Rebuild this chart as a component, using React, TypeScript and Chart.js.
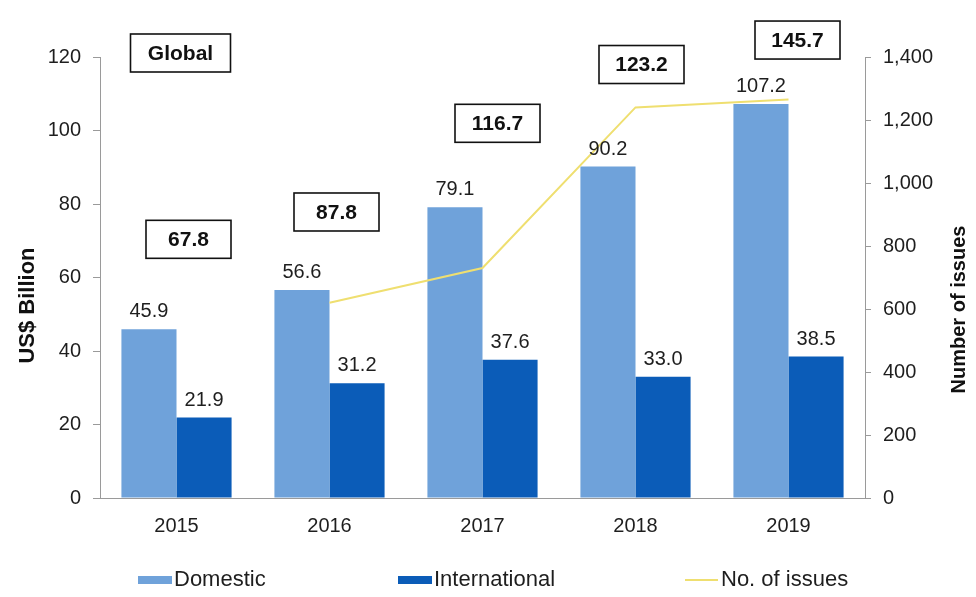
import React, { useEffect, useRef } from "react";
import { Chart, registerables } from "chart.js";

Chart.register(...registerables);

// ---- data ----
const years = ["2015", "2016", "2017", "2018", "2019"];
const domestic = [45.9, 56.6, 79.1, 90.2, 107.2];
const international = [21.9, 31.2, 37.6, 33.0, 38.5];
const totals = [67.8, 87.8, 116.7, 123.2, 145.7];
const issues: (number | null)[] = [null, 620, 730, 1240, 1265];
const regionLabel = "Global";
const seriesNames = ["Domestic", "International", "No. of issues"];
const leftTitle = "US$ Billion";
const rightTitle = "Number of issues";

// ---- layout (pixels) ----
const totalBoxLift = [90, 78, 84, 102, 64];
const totalBoxShift = [12, 7, 15, 6, 9];
const legendX = [138, 398, 685];
const legendY = 580;

const FONT = "'Liberation Sans', Arial, Helvetica, sans-serif";
const C_DOM = "#6fa2da";
const C_INT = "#0b5cb8";
const C_LINE = "#efdf70";
const C_AXIS = "#9a9a9a";

const annotationPlugin = {
  id: "annotations",
  afterDatasetsDraw(chart: any) {
    const ctx = chart.ctx;
    const xScale = chart.scales.x;
    const metaD = chart.getDatasetMeta(0);
    const metaI = chart.getDatasetMeta(1);
    ctx.save();
    // value labels
    ctx.font = `20px ${FONT}`;
    ctx.fillStyle = "#1e1e1e";
    ctx.textAlign = "center";
    ctx.textBaseline = "alphabetic";
    metaD.data.forEach((bar: any, i: number) => {
      ctx.fillText(domestic[i].toFixed(1), bar.x, bar.y - 12);
    });
    metaI.data.forEach((bar: any, i: number) => {
      ctx.fillText(international[i].toFixed(1), bar.x, bar.y - 12);
    });
    // total boxes
    const drawBox = (text: string, cx: number, cy: number, w: number, h: number) => {
      ctx.fillStyle = "#ffffff";
      ctx.fillRect(cx - w / 2, cy - h / 2, w, h);
      ctx.lineWidth = 1.6;
      ctx.strokeStyle = "#111111";
      ctx.strokeRect(cx - w / 2, cy - h / 2, w, h);
      ctx.fillStyle = "#111111";
      ctx.font = `bold 21px ${FONT}`;
      ctx.textAlign = "center";
      ctx.textBaseline = "middle";
      ctx.fillText(text, cx, cy + 1);
    };
    metaD.data.forEach((bar: any, i: number) => {
      const cx = xScale.getPixelForValue(i) + totalBoxShift[i];
      drawBox(totals[i].toFixed(1), cx, bar.y - totalBoxLift[i], 85, 38);
    });
    drawBox(regionLabel, xScale.getPixelForValue(0) + 4, chart.chartArea.top - 4, 100, 38);

    // axis titles (both read bottom-to-top)
    const area = chart.chartArea;
    const midY = (area.top + area.bottom) / 2 + 28;
    ctx.fillStyle = "#111111";
    ctx.textAlign = "center";
    ctx.textBaseline = "middle";
    ctx.save();
    ctx.translate(28, midY);
    ctx.rotate(-Math.PI / 2);
    ctx.font = `bold 22px ${FONT}`;
    ctx.fillText(leftTitle, 0, 0);
    ctx.restore();
    ctx.save();
    ctx.translate(959, midY + 4);
    ctx.rotate(-Math.PI / 2);
    ctx.font = `bold 20px ${FONT}`;
    ctx.fillText(rightTitle, 0, 0);
    ctx.restore();

    // legend
    ctx.font = `22px ${FONT}`;
    ctx.textAlign = "left";
    ctx.textBaseline = "middle";
    const colors = [C_DOM, C_INT, C_LINE];
    seriesNames.forEach((name, i) => {
      const x = legendX[i];
      if (i < 2) {
        ctx.fillStyle = colors[i];
        ctx.fillRect(x, legendY - 4, 34, 8);
      } else {
        ctx.strokeStyle = colors[i];
        ctx.lineWidth = 2;
        ctx.beginPath();
        ctx.moveTo(x, legendY);
        ctx.lineTo(x + 33, legendY);
        ctx.stroke();
      }
      ctx.fillStyle = "#1e1e1e";
      ctx.fillText(name, x + 36, legendY);
    });
    ctx.restore();
  },
};

export default function App() {
  const ref = useRef<HTMLCanvasElement | null>(null);
  useEffect(() => {
    if (!ref.current) return;
    const chart = new Chart(ref.current, {
      type: "bar",
      data: {
        labels: years,
        datasets: [
          {
            type: "bar",
            label: seriesNames[0],
            data: domestic,
            backgroundColor: C_DOM,
            yAxisID: "y",
            order: 2,
            categoryPercentage: 0.72,
            barPercentage: 1.0,
          },
          {
            type: "bar",
            label: seriesNames[1],
            data: international,
            backgroundColor: C_INT,
            yAxisID: "y",
            order: 2,
            categoryPercentage: 0.72,
            barPercentage: 1.0,
          },
          {
            type: "line",
            label: seriesNames[2],
            data: issues,
            borderColor: C_LINE,
            backgroundColor: C_LINE,
            borderWidth: 2,
            pointRadius: 0,
            tension: 0,
            yAxisID: "y1",
            order: 0,
          } as any,
        ],
      },
      options: {
        animation: false,
        responsive: false,
        maintainAspectRatio: false,
        layout: { padding: { top: 57, left: 0, right: 0, bottom: 41 } },
        plugins: {
          tooltip: { enabled: false },
          legend: { display: false },
        },
        scales: {
          x: {
            grid: { display: false },
            border: { display: true, color: C_AXIS, width: 1 },
            ticks: { font: { family: FONT, size: 20 }, color: "#1e1e1e", padding: 8 },
            afterFit: (s: any) => {
              s.height = 58;
            },
          },
          y: {
            position: "left",
            min: 0,
            max: 120,
            ticks: { stepSize: 20, font: { family: FONT, size: 20 }, color: "#1e1e1e", padding: 12 },
            grid: { drawOnChartArea: false, tickLength: 7, color: C_AXIS },
            border: { display: true, color: C_AXIS, width: 1 },
            title: { display: false },
            afterFit: (s: any) => {
              s.width = 100;
            },
          },
          y1: {
            position: "right",
            min: 0,
            max: 1400,
            ticks: {
              stepSize: 200,
              font: { family: FONT, size: 20 },
              color: "#1e1e1e",
              padding: 12,
              callback: (v: any) => Number(v).toLocaleString("en-US"),
            },
            grid: { drawOnChartArea: false, tickLength: 6, color: C_AXIS },
            border: { display: true, color: C_AXIS, width: 1 },
            title: { display: false },
            afterFit: (s: any) => {
              s.width = 111;
            },
          },
        },
      },
      plugins: [annotationPlugin],
    } as any);
    return () => chart.destroy();
  }, []);
  return (
    <div style={{ position: "absolute", left: 0, top: 0, width: 976, height: 597, background: "#fff" }}>
      <canvas ref={ref} width={976} height={597} style={{ width: 976, height: 597 }} />
    </div>
  );
}
